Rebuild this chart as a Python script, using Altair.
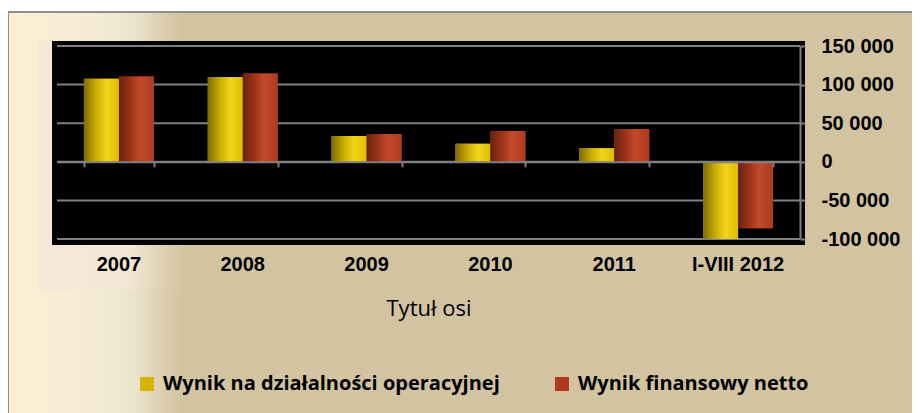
import altair as alt
import pandas as pd

# ---- data ----
years = ["2007", "2008", "2009", "2010", "2011", "I-VIII 2012"]
series = ["Wynik na działalności operacyjnej", "Wynik finansowy netto"]
operacyjny = [107500, 110000, 33500, 23500, 17500, -100000]
netto = [110500, 114500, 36000, 40000, 42500, -86000]
y_ticks = [-100000, -50000, 0, 50000, 100000, 150000]

rows = []
for i, y in enumerate(years):
    rows.append({"rok": y, "seria": series[0], "wartosc": operacyjny[i]})
    rows.append({"rok": y, "seria": series[1], "wartosc": netto[i]})
df = pd.DataFrame(rows)
grid_df = pd.DataFrame({"wartosc": y_ticks})

W, H = 743, 193
AXF = "Liberation Sans, Arial, sans-serif"
CALI = "Open Sans, sans-serif"
GRAY = "#808080"

yscale = alt.Scale(domain=[-100000, 150000], nice=False, zero=False)
xscale = alt.Scale(paddingInner=0.435, paddingOuter=0.2175)
xoff = alt.XOffset("seria:N", sort=series, scale=alt.Scale(domain=series))
yaxis = alt.Axis(orient="right", values=y_ticks, grid=False, format=",d",
                 domainColor=GRAY, domainWidth=2, tickColor=GRAY,
                 tickSize=5, tickWidth=2, labelPadding=16,
                 labelFont=AXF, labelFontSize=20, labelFontWeight="bold",
                 labelColor="black", title=None, zindex=1)
Y = alt.Y("wartosc:Q", scale=yscale, axis=yaxis)


def grad(stops):
    return alt.Gradient(
        gradient="linear", x1=0, x2=1, y1=0, y2=0,
        stops=[alt.GradientStop(color=c, offset=o) for o, c in stops],
    )


bg_outer = alt.Chart(pd.DataFrame({"a": [0]})).mark_rect(
    fill=grad([(0, "#FEEFD3"), (0.10, "#F4EBD6"), (0.138, "#ECE3CB"),
               (0.165, "#DDD0B1"), (0.19, "#D2C4A0"), (1, "#D2C4A0")]),
    stroke="#8E8E8E", strokeWidth=2,
).encode(x=alt.value(-49), x2=alt.value(W + 130), y=alt.value(-34), y2=alt.value(H + 190))

bg_inner = alt.Chart(pd.DataFrame({"a": [0]})).mark_rect(
    fill=grad([(0, "#F7E9DA"), (0.12, "#F2E6D4"), (0.155, "#E0D3B5"),
               (0.19, "#D2C4A0"), (1, "#D2C4A0")]),
).encode(x=alt.value(-19), x2=alt.value(W + 20), y=alt.value(-5), y2=alt.value(H + 51))

black = alt.Chart(pd.DataFrame({"a": [0]})).mark_rect(fill="black").encode(
    x=alt.value(-5), x2=alt.value(W + 5), y=alt.value(-5), y2=alt.value(H + 6)
)

grid = alt.Chart(grid_df).mark_rule(color=GRAY, strokeWidth=2).encode(y=Y)

base = alt.Chart(df).mark_bar().encode(
    x=alt.X("rok:N", sort=years, scale=xscale,
            axis=alt.Axis(orient="bottom", domain=False, ticks=False, grid=False,
                          labelPadding=15, labelFont=AXF, labelFontSize=20,
                          labelFontWeight="bold", labelColor="black", labelAngle=0,
                          title="Tytuł osi", titleFont=CALI, titleFontSize=22,
                          titleFontWeight="normal", titleColor="black",
                          titlePadding=24, zindex=1)),
    xOffset=xoff,
    y=Y,
    color=alt.Color("seria:N", sort=series,
                    scale=alt.Scale(domain=series, range=["#D4B400", "#B0381C"]),
                    legend=alt.Legend(orient="none", legendX=80, legendY=328,
                                      direction="horizontal", title=None,
                                      symbolType="square", symbolSize=196,
                                      symbolStrokeWidth=0, labelFont=CALI,
                                      labelFontSize=20, labelFontWeight="bold",
                                      labelColor="black", columnPadding=52,
                                      labelOffset=6, padding=0, labelLimit=0)),
)

over_a = alt.Chart(df).transform_filter(
    alt.datum.seria == series[0]
).mark_bar(
    fill=grad([(0, "#7E6C00"), (0.35, "#C9AD05"), (0.65, "#F2D41C"), (1, "#DDBD00")])
).encode(
    x=alt.X("rok:N", sort=years, scale=xscale,
            axis=alt.Axis(orient="bottom", offset=-0.4 * H, labels=False,
                          domain=True, domainColor=GRAY, domainWidth=2,
                          ticks=True, tickBand="extent", tickColor=GRAY,
                          tickSize=5, tickWidth=2, title=None, grid=False,
                          zindex=1)),
    xOffset=xoff,
    y=Y,
)

over_b = alt.Chart(df).transform_filter(
    alt.datum.seria == series[1]
).mark_bar(
    fill=grad([(0, "#6A2210"), (0.35, "#9E3518"), (0.6, "#C4492A"), (1, "#AD3B1F")])
).encode(
    x=alt.X("rok:N", sort=years, scale=xscale, axis=None),
    xOffset=xoff,
    y=Y,
)

chart = alt.layer(bg_outer, bg_inner, black, grid, base, over_a, over_b).resolve_axis(
    x="independent"
).properties(
    width=W, height=H,
    autosize=alt.AutoSizeParams(type="none"),
    padding={"left": 49, "top": 38, "right": 112, "bottom": 174},
    background="white",
).configure(
    locale={"number": {"decimal": ",", "thousands": " ", "grouping": [3],
                       "currency": ["", " zł"], "minus": "-"}}
).configure_view(stroke=None)

chart.save("out.html", embed_options={"renderer": "svg", "actions": False})
